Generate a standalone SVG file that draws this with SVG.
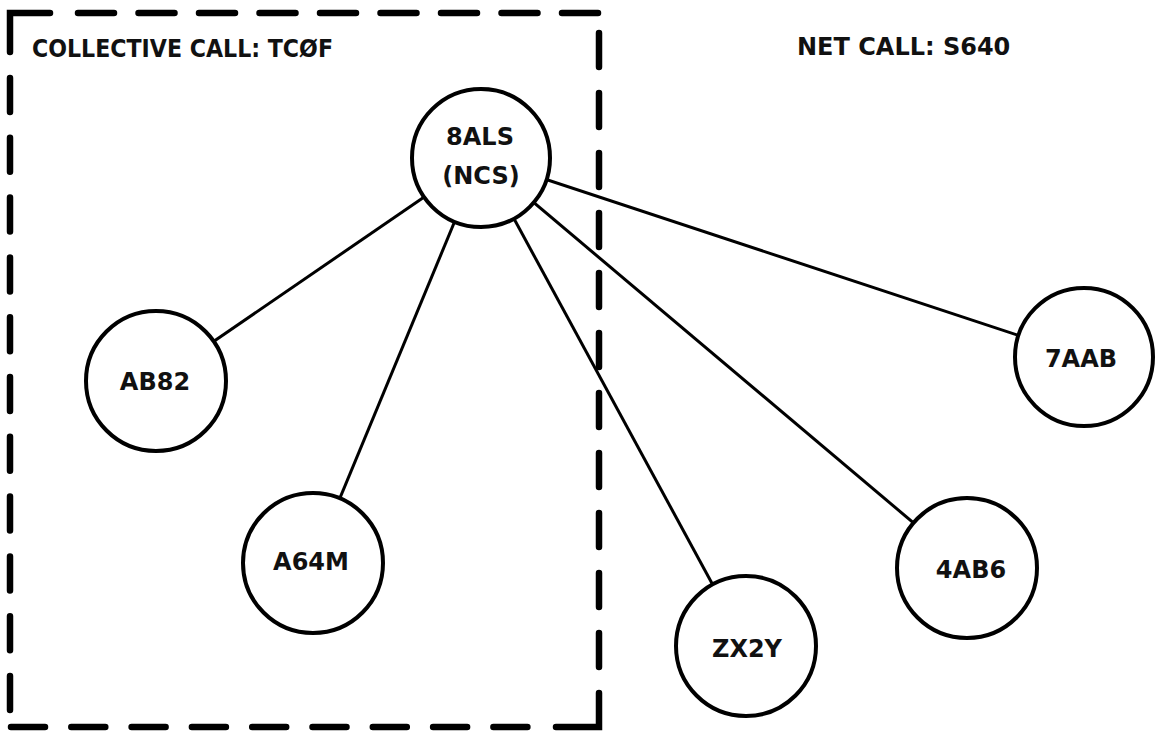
<svg xmlns="http://www.w3.org/2000/svg" width="1156" height="732" viewBox="0 0 1156 732">
  <style>
    .frame { fill: none; stroke: #000; stroke-width: 6.5; stroke-linecap: round; stroke-linejoin: miter; }
    .node circle { fill: #fff; stroke: #000; stroke-width: 4; }
    .node text, .title { font-family: "DejaVu Sans", "Liberation Sans", sans-serif; font-weight: bold; fill: #111; }
    .node text { font-size: 24px; text-anchor: middle; }
    .title { font-size: 24px; }
    .links line { stroke: #000; stroke-width: 3; }
  </style>
  <rect width="1156" height="732" fill="#fff"/>

  <!-- collective call boundary: dashed box with solid corner pieces -->
  <g id="boundary">
    <path class="frame" d="M10,52 V13 H50"/>
    <path class="frame" d="M78,13 H598" stroke-dasharray="36 24.5"/>
    <path class="frame" d="M10,78 V712" stroke-dasharray="34 25.8"/>
    <path class="frame" d="M599,33 V667" stroke-dasharray="34 26"/>
    <path class="frame" d="M11,727 H532" stroke-dasharray="34 26.3"/>
    <path class="frame" d="M556,727 H599 V693"/>
  </g>

  <text class="title" x="32" y="57" textLength="301" lengthAdjust="spacingAndGlyphs">COLLECTIVE CALL: TCØF</text>
  <text class="title" x="797" y="55">NET CALL: S640</text>

  <!-- radio links from the net control station (circles mask the inner ends) -->
  <g id="links" class="links">
    <line x1="481" y1="158" x2="156" y2="381"/>
    <line x1="481" y1="158" x2="313" y2="563"/>
    <line x1="481" y1="158" x2="746" y2="646"/>
    <line x1="481" y1="158" x2="967" y2="568"/>
    <line x1="481" y1="158" x2="1084" y2="357"/>
  </g>

  <g id="n-8ALS" class="node">
    <circle cx="481" cy="158" r="69"/>
    <text x="480" y="145">8ALS</text>
    <text x="481" y="184">(NCS)</text>
  </g>
  <g id="n-AB82" class="node">
    <circle cx="156" cy="381" r="70"/>
    <text x="155" y="390">AB82</text>
  </g>
  <g id="n-A64M" class="node">
    <circle cx="313" cy="563" r="70"/>
    <text x="311" y="570">A64M</text>
  </g>
  <g id="n-ZX2Y" class="node">
    <circle cx="746" cy="646" r="70"/>
    <text x="747" y="657">ZX2Y</text>
  </g>
  <g id="n-4AB6" class="node">
    <circle cx="967" cy="568" r="70"/>
    <text x="971" y="578">4AB6</text>
  </g>
  <g id="n-7AAB" class="node">
    <circle cx="1084" cy="357" r="69"/>
    <text x="1081" y="367">7AAB</text>
  </g>
</svg>
